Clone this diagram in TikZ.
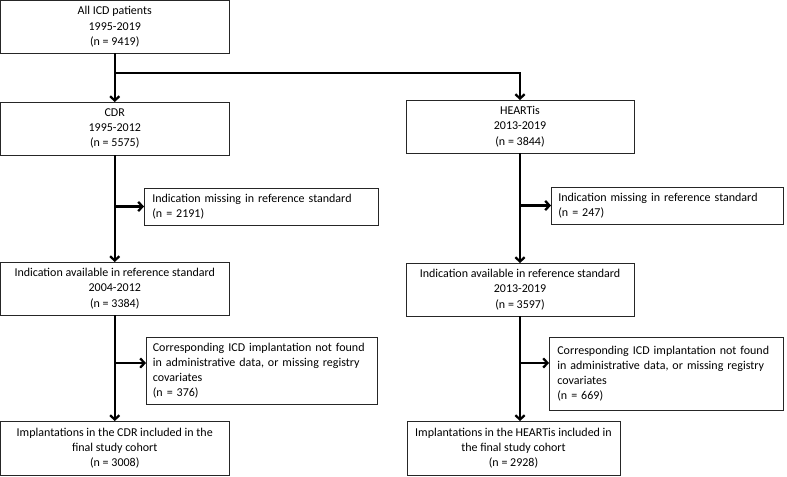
\documentclass[tikz,border=0pt]{standalone}
\usepackage{fontspec}
\setmainfont{Carlito}
\usetikzlibrary{arrows.meta}
\begin{document}
\begin{tikzpicture}[x=0.75pt,y=-0.75pt,
  box/.style={draw=black!85,line width=0.75pt,inner sep=0pt,outer sep=0pt,
    font=\fontsize{9}{11.4}\selectfont},
  mainbox/.style={box,align=center},
  sidebox/.style={box,align=left,text width=#1},
  arr/.style={line width=1.7pt,-{Straight Barb[length=3.2pt,width=7pt]}}]
\useasboundingbox (0,0) rectangle (787,476);
% boxes
\node[mainbox,minimum width=171.4pt,minimum height=39.4pt] (top) at (114.75,26.75)
  {All ICD patients\\1995-2019\\(n = 9419)};
\node[mainbox,minimum width=171.4pt,minimum height=39.75pt] (cdr) at (114.75,128.5)
  {CDR\\1995-2012\\(n = 5575)};
\node[mainbox,minimum width=171pt,minimum height=39.75pt] (heart) at (520,126.5)
  {HEARTis\\2013-2019\\(n = 3844)};
\node[sidebox=163pt,minimum width=175.5pt,minimum height=27.75pt] (lmiss) at (261,206.5)
  {Indication missing in reference standard\\(n = 2191)};
\node[sidebox=163pt,minimum width=174pt,minimum height=27.75pt] (rmiss) at (667,205.5)
  {Indication missing in reference standard\\(n = 247)};
\node[mainbox,minimum width=171.4pt,minimum height=39.75pt] (lavail) at (114.75,288.5)
  {Indication available in reference standard\\2004-2012\\(n = 3384)};
\node[mainbox,minimum width=171pt,minimum height=39.75pt] (ravail) at (520,289.5)
  {Indication available in reference standard\\2013-2019\\(n = 3597)};
\node[sidebox=163pt,minimum width=173.25pt,minimum height=50.25pt] (lcorr) at (261.5,370.5)
  {Corresponding ICD implantation not found\\in administrative data, or missing registry\\covariates\\(n = 376)};
\node[sidebox=163pt,minimum width=175.5pt,minimum height=54.75pt] (rcorr) at (666,373.5)
  {Corresponding ICD implantation not found\\in administrative data, or missing registry\\covariates\\(n = 669)};
\node[mainbox,minimum width=171.4pt,minimum height=40.5pt] (lfin) at (114.75,448)
  {Implantations in the CDR included in the\\final study cohort\\(n = 3008)};
\node[mainbox,minimum width=159.75pt,minimum height=40.5pt] (rfin) at (513.5,448)
  {Implantations in the HEARTis included in\\the final study cohort\\(n = 2928)};
% connectors
\coordinate (split) at (114.75,73);
\coordinate (lc) at ([yshift=5.6pt]lcorr.west);
\coordinate (rc) at ([yshift=7.9pt]rcorr.west);
\draw[arr] (top.south) -- (cdr.north);
\draw[arr] (split) -| (heart.north);
\draw[arr] (cdr.south) -- (lavail.north);
\draw[arr] (cdr.south |- lmiss.west) -- (lmiss.west);
\draw[arr] (heart.south) -- (ravail.north);
\draw[arr] (heart.south |- rmiss.west) -- (rmiss.west);
\draw[arr] (lavail.south) -- (lfin.north);
\draw[arr] (lavail.south |- lc) -- (lc);
\draw[arr] (ravail.south) -- (ravail.south |- rfin.north);
\draw[arr] (ravail.south |- rc) -- (rc);
\end{tikzpicture}
\end{document}
